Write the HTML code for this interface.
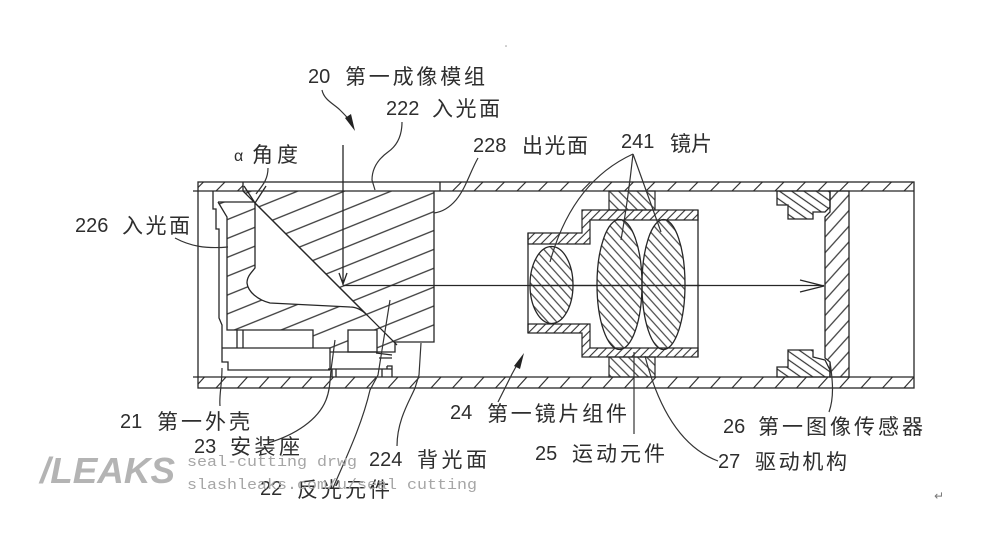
<!DOCTYPE html>
<html><head><meta charset="utf-8">
<style>
html,body{margin:0;padding:0;background:#fff;}
svg{display:block;}
.t{font-family:"Liberation Sans","Noto Sans CJK SC",sans-serif;font-size:20px;fill:#2e2e2e;}
.c{font-family:"Liberation Sans","Noto Sans CJK SC",sans-serif;font-size:21px;fill:#2e2e2e;}
.ln{fill:none;stroke:#262626;stroke-width:1.3;}
.ld{fill:none;stroke:#333;stroke-width:1.2;}
</style></head><body>
<svg width="1000" height="560" viewBox="0 0 1000 560" xmlns="http://www.w3.org/2000/svg">
<defs>
<pattern id="bt" patternUnits="userSpaceOnUse" x="0" y="182" width="21.5" height="9"><path d="M1,9 L10,0" stroke="#333" stroke-width="1.2"/></pattern>
<pattern id="bb" patternUnits="userSpaceOnUse" x="0" y="377" width="21.5" height="11"><path d="M1,11 L11,0" stroke="#333" stroke-width="1.2"/></pattern>
<pattern id="pr" patternUnits="userSpaceOnUse" width="20" height="17.5" patternTransform="rotate(-22)"><path d="M0,8.75 H20" stroke="#333" stroke-width="1.3"/></pattern>
<pattern id="lens" patternUnits="userSpaceOnUse" width="10" height="6.5" patternTransform="rotate(48)"><path d="M0,3.25 H10" stroke="#333" stroke-width="1.1"/></pattern>
<pattern id="brl" patternUnits="userSpaceOnUse" width="10" height="6" patternTransform="rotate(-45)"><path d="M0,3 H10" stroke="#333" stroke-width="1.1"/></pattern>
<pattern id="mv" patternUnits="userSpaceOnUse" width="10" height="6.5" patternTransform="rotate(45)"><path d="M0,3.25 H10" stroke="#333" stroke-width="1.1"/></pattern>
<pattern id="sen" patternUnits="userSpaceOnUse" width="10" height="10.5" patternTransform="rotate(-48)"><path d="M0,5.25 H10" stroke="#333" stroke-width="1.2"/></pattern>
<pattern id="hd" patternUnits="userSpaceOnUse" width="10" height="7" patternTransform="rotate(35)"><path d="M0,3.5 H10" stroke="#333" stroke-width="1.2"/></pattern>
<clipPath id="cpA">
<polygon points="243,191 434,191 434,342 394,342"/>
<polygon points="218,202 254,202 394,342 395,352 330,352 330,348 313,348 313,330 227,330 227,217"/>
</clipPath>
</defs>

<!-- tube -->
<rect x="198" y="182" width="45" height="9" fill="url(#bt)"/>
<rect x="440" y="182" width="474" height="9" fill="url(#bt)"/>
<rect x="198" y="377" width="716" height="11" fill="url(#bb)"/>
<rect x="198" y="182" width="716" height="206" class="ln"/>
<path class="ln" d="M193,191 H914 M193,377 H914 M243,182 V191 M440,182 V191"/>

<!-- left shell stepped line -->
<path class="ln" d="M213,191 L213,209 L216,209 L216,229 L219,229 L219,318 L222,325 L222,362 L228,362 L228,370 L330,370"/>

<!-- prism + holder hatch -->
<g clip-path="url(#cpA)"><rect x="200" y="185" width="240" height="175" fill="url(#pr)"/></g>
<path d="M255,203 L367,315 C362,310 357,307 350,307 L270,303 C258,300 248,292 247,283 C247,276 252,272 255,268 Z" fill="#fff" stroke="#262626" stroke-width="1.3"/>
<rect x="348" y="330" width="29" height="22" fill="#fff" stroke="#262626" stroke-width="1.3"/>
<path class="ln" d="M434,191 V342 H394 M243,191 L397,345 M218,202 H254 M218,202 L227,217 V330 H313 V348 H330 V370 M330,352 H395 V343 M222,348 H313 M237,330 V348 M243,330 V348 M313,330 V348"/>
<path class="ln" d="M244,186 L255,203 L266,186"/>
<!-- mount seat -->
<path class="ln" d="M328,369 H392 V377 M332,369 V377 M336,369 V377 M382,369 V377 M387,366 H392 V369 M387,366 V369 M376,353 L392,355 M379,358 L392,358"/>

<!-- ray -->
<path class="ln" d="M343,145 V285 M339,273 L343,284 L347,273 M343,285.5 H824 M800,280 L824,286 L800,292"/>

<!-- moving element -->
<rect x="609" y="191" width="46" height="19" fill="url(#mv)" stroke="#262626" stroke-width="1.2"/>
<rect x="609" y="357" width="46" height="20" fill="url(#mv)" stroke="#262626" stroke-width="1.2"/>

<!-- barrel -->
<path d="M528,233 L582,233 L582,210 L698,210 L698,220 L590,220 L590,244 L528,244 Z" fill="url(#brl)" stroke="#262626" stroke-width="1.2"/>
<path d="M528,333 L582,333 L582,357 L698,357 L698,348 L590,348 L590,324 L528,324 Z" fill="url(#brl)" stroke="#262626" stroke-width="1.2"/>
<path class="ln" d="M528,233 V333 M698,210 V357"/>

<!-- lenses -->
<ellipse cx="551.5" cy="285" rx="21.5" ry="38.5" fill="url(#lens)" stroke="#262626" stroke-width="1.3"/>
<ellipse cx="619.5" cy="284.5" rx="22.5" ry="65" fill="url(#lens)" stroke="#262626" stroke-width="1.3"/>
<ellipse cx="663.5" cy="284.5" rx="21.5" ry="65" fill="url(#lens)" stroke="#262626" stroke-width="1.3"/>
<path class="ln" d="M530,285.5 H700"/>

<!-- sensor -->
<polygon points="830,191 849,191 849,377 830,377 830,362 825,358 825,217 830,212" fill="url(#sen)" stroke="#262626" stroke-width="1.3"/>
<polygon points="777,191 830,191 830,207 825,212 813,212 813,219 788,219 788,205 777,205" fill="url(#hd)" stroke="#262626" stroke-width="1.3"/>
<polygon points="788,350 813,350 813,357 825,360 830,370 830,377 777,377 777,367 788,367" fill="url(#hd)" stroke="#262626" stroke-width="1.3"/>

<!-- leaders -->
<path class="ld" d="M322,90 C324,100 334,104 340,110 S348,118 350,122"/>
<polygon points="355,131 345,118 351,114" fill="#222"/>
<path class="ld" d="M402,122 C402,135 398,145 388,152 C377,160 372,170 372,180 L375,190"/>
<path class="ld" d="M268,168 C268,180 262,186 256,194"/>
<path class="ld" d="M478,158 C470,172 466,188 456,200 C450,207 442,212 434,213"/>
<path class="ld" d="M175,238 C190,246 205,249 228,247"/>
<path class="ld" d="M633,154 Q572,182 550,262 M633,154 Q628,200 621,240 M633,154 L661,232"/>
<path class="ld" d="M220,406 C219,395 222,385 222,368"/>
<path class="ld" d="M268,443 C295,435 318,420 326,400 C330,390 330,380 331,370 L335,340"/>
<path class="ld" d="M333,488 C345,460 362,425 370,390 L378,375 L390,300"/>
<path class="ld" d="M397,446 C397,420 410,400 415,388 L419,375 L421,343"/>
<path class="ld" d="M498,402 C503,392 508,382 512,374 L518,363"/>
<polygon points="524,353 514,366 520,369" fill="#222"/>
<path class="ld" d="M634,352 V434"/>
<path class="ld" d="M645,356 C655,395 675,445 718,461"/>
<path class="ld" d="M829,412 C834,398 833,382 830,362"/>

<!-- labels -->
<text class="t" x="308" y="83">20</text><text class="c" x="345" y="84" textLength="140" lengthAdjust="spacing">第一成像模组</text>
<text class="t" x="386" y="115">222</text><text class="c" x="432" y="116" textLength="68" lengthAdjust="spacing">入光面</text>
<text class="t" x="234" y="161" style="font-size:16px">α</text><text class="c" x="252" y="162" textLength="46" lengthAdjust="spacing">角度</text>
<text class="t" x="473" y="152">228</text><text class="c" x="522" y="153" textLength="66" lengthAdjust="spacing">出光面</text>
<text class="t" x="621" y="148">241</text><text class="c" x="670" y="151" textLength="42" lengthAdjust="spacing">镜片</text>
<text class="t" x="75" y="232">226</text><text class="c" x="122" y="233" textLength="68" lengthAdjust="spacing">入光面</text>
<text class="t" x="120" y="428">21</text><text class="c" x="157" y="429" textLength="93" lengthAdjust="spacing">第一外壳</text>
<text class="t" x="194" y="453">23</text><text class="c" x="230" y="454" textLength="70" lengthAdjust="spacing">安装座</text>
<text class="t" x="369" y="466">224</text><text class="c" x="417" y="467" textLength="70" lengthAdjust="spacing">背光面</text>
<text class="t" x="260" y="495">22</text><text class="c" x="297" y="497" textLength="93" lengthAdjust="spacing">反光元件</text>
<text class="t" x="450" y="419">24</text><text class="c" x="487" y="421" textLength="140" lengthAdjust="spacing">第一镜片组件</text>
<text class="t" x="535" y="460">25</text><text class="c" x="572" y="461" textLength="93" lengthAdjust="spacing">运动元件</text>
<text class="t" x="723" y="433">26</text><text class="c" x="758" y="434" textLength="165" lengthAdjust="spacing">第一图像传感器</text>
<text class="t" x="718" y="468">27</text><text class="c" x="755" y="469" textLength="92" lengthAdjust="spacing">驱动机构</text>

<!-- watermark -->
<text x="40" y="483" textLength="135" lengthAdjust="spacingAndGlyphs" style="font-family:'Liberation Sans',sans-serif;font-weight:bold;font-style:italic;font-size:36px;fill:#b4b4b4">/LEAKS</text>
<text x="187" y="466" textLength="170" lengthAdjust="spacingAndGlyphs" style="font-family:'Liberation Mono',monospace;font-size:15px;fill:#a6a6a6">seal-cutting drwg</text>
<text x="187" y="489" textLength="290" lengthAdjust="spacingAndGlyphs" style="font-family:'Liberation Mono',monospace;font-size:15px;fill:#a6a6a6">slashleaks.com/u/seal cutting</text>
<text x="934" y="500" style="font-family:'DejaVu Sans',sans-serif;font-size:12px;fill:#777">↵</text>
<circle cx="506" cy="46" r="0.8" fill="#999"/>
</svg>
</body></html>
